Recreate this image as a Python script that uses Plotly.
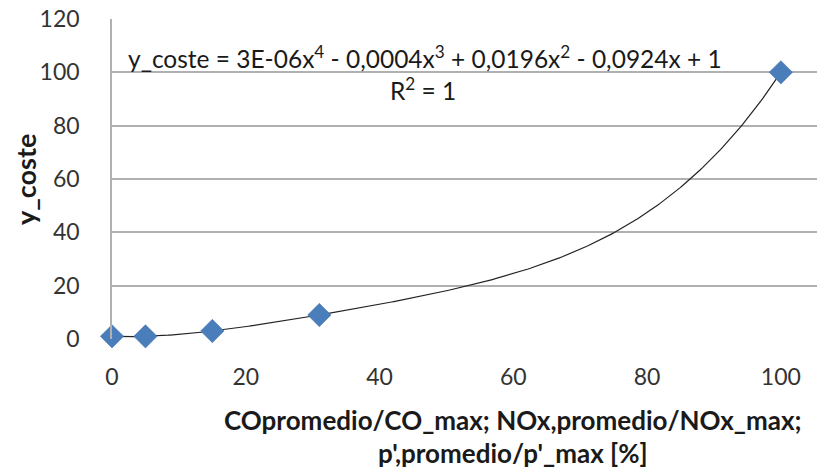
import numpy as np
import plotly.graph_objects as go

# Measured points (relative emission / pressure ratio vs cost index)
x_pct = [0, 5, 15, 31, 100]
y_coste = [1, 1, 3, 9, 100]

x_ticks = [0, 20, 40, 60, 80, 100]
y_ticks = [0, 20, 40, 60, 80, 100, 120]

# 4th-order polynomial trendline through the points
coef = np.polyfit(x_pct, y_coste, 4)
xs = np.linspace(0, 100, 300)
ys = np.polyval(coef, xs)

FONT = "Lato"
GRID = "#b0b0b0"

# plot-area geometry in pixels, used to place the free-floating labels
L, T, W, H = 112, 19, 705, 320


def px(x):
    return (x - L) / W


def py(y):
    return (T + H - y) / H


fig = go.Figure()
fig.add_trace(go.Scatter(
    x=xs, y=ys, mode="lines",
    line=dict(color="#222222", width=1.2),
    hoverinfo="skip", showlegend=False,
))
fig.add_trace(go.Scatter(
    x=x_pct, y=y_coste, mode="markers",
    marker=dict(symbol="diamond", size=18, color="#4a7ebb",
                line=dict(color="#3f6fa8", width=0.5)),
    cliponaxis=False, showlegend=False,
))

fig.update_layout(
    width=817, height=468,
    margin=dict(l=L, r=817 - L - W, t=T, b=468 - T - H),
    paper_bgcolor="white", plot_bgcolor="white",
    font=dict(family=FONT, size=23, color="#333333"),
    xaxis=dict(
        range=[0, 105.4], tickvals=x_ticks, ticktext=[str(v) for v in x_ticks],
        showgrid=False, zeroline=False, showline=False,
        ticks="", ticklabelstandoff=22,
        tickfont=dict(family=FONT, size=23, color="#333333"),
    ),
    yaxis=dict(
        range=[0, 120], tickvals=y_ticks, ticktext=[str(v) for v in y_ticks],
        showgrid=True, gridcolor=GRID, gridwidth=1.5,
        zeroline=False, showline=True, linecolor=GRID, linewidth=1.5,
        ticks="", ticklabelstandoff=26,
        tickfont=dict(family=FONT, size=23, color="#333333"),
    ),
    annotations=[
        dict(text="y_coste = 3E-06x<sup>4</sup> - 0,0004x<sup>3</sup> + 0,0196x<sup>2</sup> - 0,0924x + 1",
             xref="paper", yref="paper", x=px(126), y=py(57),
             xanchor="left", yanchor="middle", showarrow=False,
             font=dict(family=FONT, size=24.5, color="#1a1a1a")),
        dict(text="R<sup>2</sup> = 1",
             xref="paper", yref="paper", x=px(423), y=py(89),
             xanchor="center", yanchor="middle", showarrow=False,
             font=dict(family=FONT, size=24.5, color="#1a1a1a")),
        dict(text="<b>y_coste</b>", textangle=-90,
             xref="paper", yref="paper", x=px(25), y=py(180),
             xanchor="center", yanchor="middle", showarrow=False,
             font=dict(family=FONT, size=27, color="#1a1a1a")),
        dict(text="<b>COpromedio/CO_max; NOx,promedio/NOx_max;</b>",
             xref="paper", yref="paper", x=px(513), y=py(420),
             xanchor="center", yanchor="middle", showarrow=False,
             font=dict(family=FONT, size=26, color="#1a1a1a")),
        dict(text="<b>p',promedio/p'_max [%]</b>",
             xref="paper", yref="paper", x=px(513), y=py(453),
             xanchor="center", yanchor="middle", showarrow=False,
             font=dict(family=FONT, size=26, color="#1a1a1a")),
    ],
)

fig.write_html("out.html")
